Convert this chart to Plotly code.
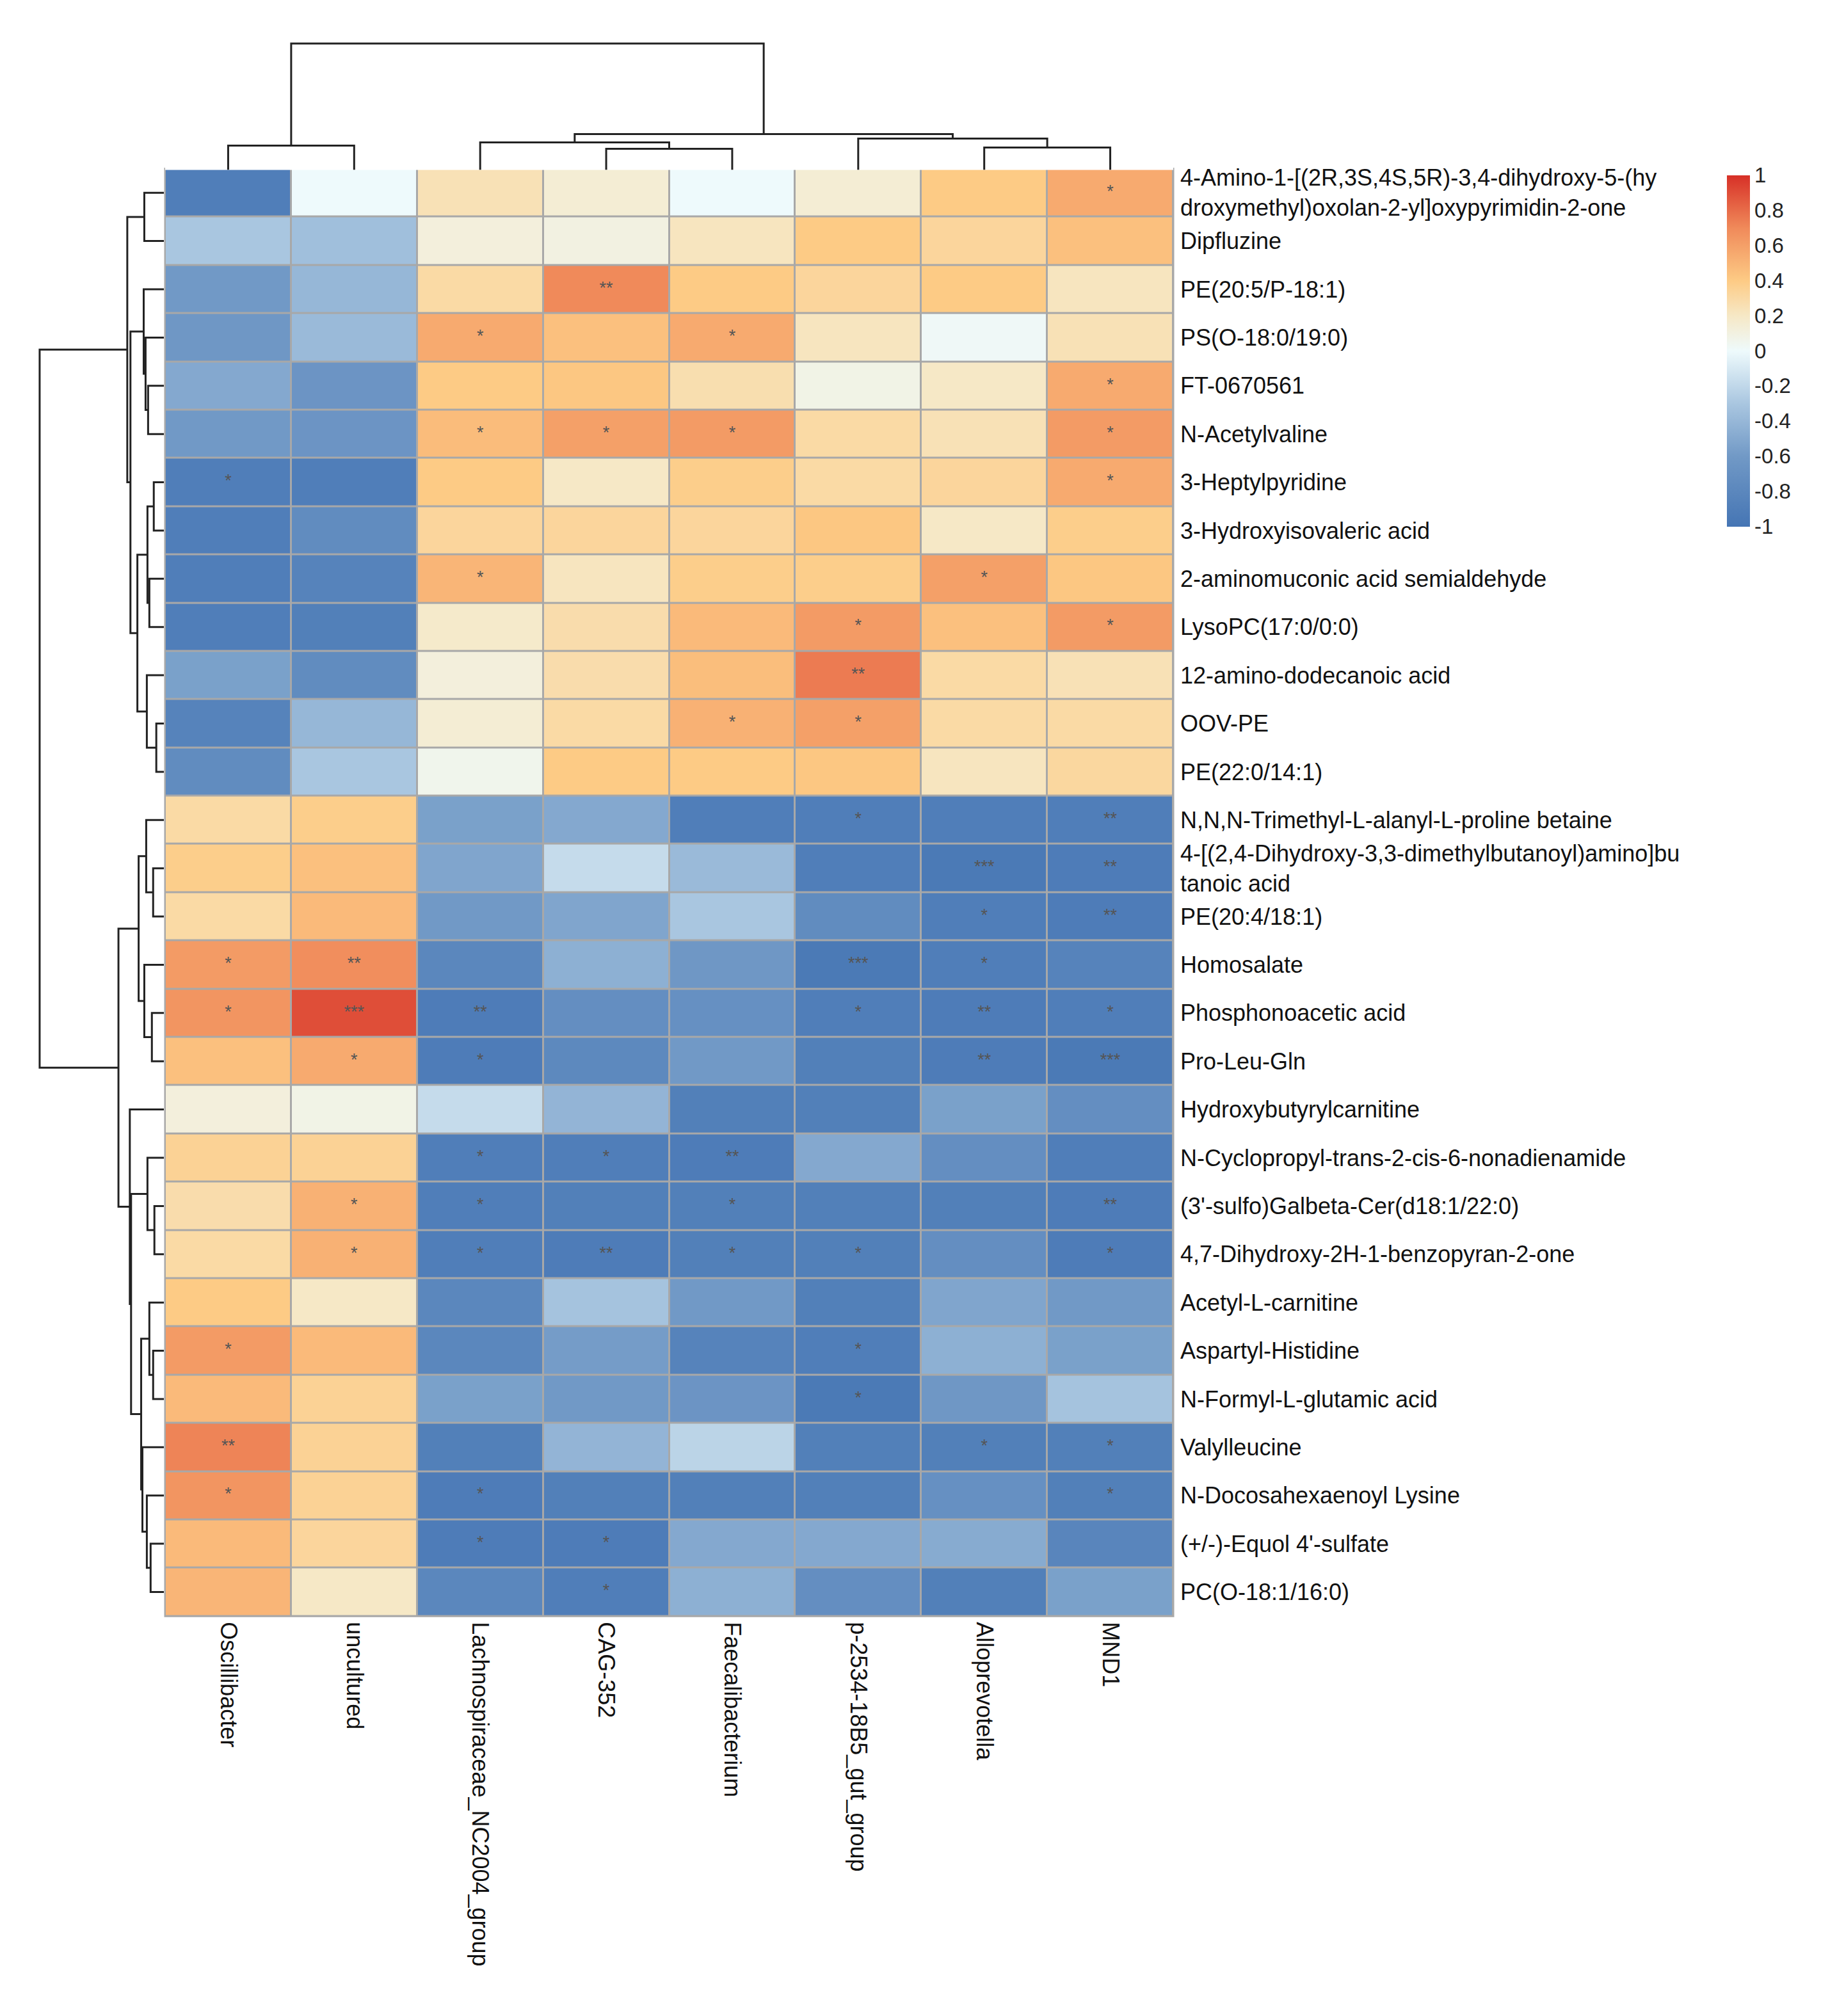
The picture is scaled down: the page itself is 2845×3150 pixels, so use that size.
import plotly.graph_objects as go

W, H = 2845, 3150

col_labels = ["Oscillibacter", "uncultured", "Lachnospiraceae_NC2004_group", "CAG-352",
              "Faecalibacterium", "p-2534-18B5_gut_group", "Alloprevotella", "MND1"]

row_labels = [
    "4-Amino-1-[(2R,3S,4S,5R)-3,4-dihydroxy-5-(hy<br>droxymethyl)oxolan-2-yl]oxypyrimidin-2-one",
    "Dipfluzine", "PE(20:5/P-18:1)", "PS(O-18:0/19:0)", "FT-0670561", "N-Acetylvaline",
    "3-Heptylpyridine", "3-Hydroxyisovaleric acid", "2-aminomuconic acid semialdehyde",
    "LysoPC(17:0/0:0)", "12-amino-dodecanoic acid", "OOV-PE", "PE(22:0/14:1)",
    "N,N,N-Trimethyl-L-alanyl-L-proline betaine",
    "4-[(2,4-Dihydroxy-3,3-dimethylbutanoyl)amino]bu<br>tanoic acid",
    "PE(20:4/18:1)", "Homosalate", "Phosphonoacetic acid", "Pro-Leu-Gln",
    "Hydroxybutyrylcarnitine", "N-Cyclopropyl-trans-2-cis-6-nonadienamide",
    "(3'-sulfo)Galbeta-Cer(d18:1/22:0)", "4,7-Dihydroxy-2H-1-benzopyran-2-one",
    "Acetyl-L-carnitine", "Aspartyl-Histidine", "N-Formyl-L-glutamic acid", "Valylleucine",
    "N-Docosahexaenoyl Lysine", "(+/-)-Equol 4'-sulfate", "PC(O-18:1/16:0)",
]

corr = [
    [-0.90, 0.00, 0.25, 0.15, 0.00, 0.15, 0.40, 0.55],
    [-0.30, -0.35, 0.12, 0.10, 0.22, 0.40, 0.33, 0.45],
    [-0.60, -0.40, 0.30, 0.70, 0.40, 0.33, 0.40, 0.22],
    [-0.62, -0.38, 0.55, 0.45, 0.55, 0.22, 0.02, 0.25],
    [-0.50, -0.65, 0.40, 0.42, 0.27, 0.08, 0.20, 0.55],
    [-0.60, -0.65, 0.47, 0.60, 0.62, 0.30, 0.25, 0.62],
    [-0.90, -0.90, 0.40, 0.20, 0.38, 0.30, 0.33, 0.55],
    [-0.90, -0.75, 0.33, 0.33, 0.33, 0.42, 0.20, 0.38],
    [-0.90, -0.85, 0.50, 0.22, 0.38, 0.38, 0.60, 0.42],
    [-0.90, -0.88, 0.18, 0.28, 0.48, 0.62, 0.45, 0.62],
    [-0.55, -0.75, 0.12, 0.28, 0.46, 0.75, 0.30, 0.25],
    [-0.85, -0.40, 0.15, 0.30, 0.52, 0.60, 0.30, 0.30],
    [-0.75, -0.30, 0.06, 0.40, 0.40, 0.42, 0.22, 0.32],
    [0.30, 0.38, -0.55, -0.50, -0.90, -0.90, -0.90, -0.90],
    [0.38, 0.45, -0.52, -0.18, -0.38, -0.90, -0.95, -0.92],
    [0.30, 0.48, -0.60, -0.52, -0.30, -0.75, -0.90, -0.92],
    [0.62, 0.68, -0.80, -0.45, -0.62, -0.95, -0.90, -0.85],
    [0.65, 0.90, -0.92, -0.72, -0.70, -0.90, -0.92, -0.90],
    [0.45, 0.55, -0.92, -0.78, -0.60, -0.88, -0.92, -0.95],
    [0.12, 0.08, -0.18, -0.42, -0.88, -0.88, -0.55, -0.72],
    [0.35, 0.35, -0.90, -0.90, -0.92, -0.50, -0.72, -0.90],
    [0.28, 0.52, -0.90, -0.88, -0.88, -0.88, -0.88, -0.92],
    [0.30, 0.52, -0.90, -0.92, -0.88, -0.88, -0.72, -0.92],
    [0.40, 0.20, -0.80, -0.32, -0.60, -0.88, -0.52, -0.60],
    [0.62, 0.48, -0.80, -0.58, -0.85, -0.90, -0.45, -0.55],
    [0.48, 0.35, -0.55, -0.60, -0.65, -0.95, -0.62, -0.32],
    [0.72, 0.35, -0.88, -0.42, -0.22, -0.88, -0.88, -0.88],
    [0.65, 0.35, -0.92, -0.88, -0.88, -0.88, -0.70, -0.88],
    [0.48, 0.33, -0.92, -0.92, -0.50, -0.50, -0.48, -0.82],
    [0.50, 0.20, -0.80, -0.90, -0.45, -0.72, -0.88, -0.55],
]

stars = [
    ["", "", "", "", "", "", "", "*"],
    ["", "", "", "", "", "", "", ""],
    ["", "", "", "**", "", "", "", ""],
    ["", "", "*", "", "*", "", "", ""],
    ["", "", "", "", "", "", "", "*"],
    ["", "", "*", "*", "*", "", "", "*"],
    ["*", "", "", "", "", "", "", "*"],
    ["", "", "", "", "", "", "", ""],
    ["", "", "*", "", "", "", "*", ""],
    ["", "", "", "", "", "*", "", "*"],
    ["", "", "", "", "", "**", "", ""],
    ["", "", "", "", "*", "*", "", ""],
    ["", "", "", "", "", "", "", ""],
    ["", "", "", "", "", "*", "", "**"],
    ["", "", "", "", "", "", "***", "**"],
    ["", "", "", "", "", "", "*", "**"],
    ["*", "**", "", "", "", "***", "*", ""],
    ["*", "***", "**", "", "", "*", "**", "*"],
    ["", "*", "*", "", "", "", "**", "***"],
    ["", "", "", "", "", "", "", ""],
    ["", "", "*", "*", "**", "", "", ""],
    ["", "*", "*", "", "*", "", "", "**"],
    ["", "*", "*", "**", "*", "*", "", "*"],
    ["", "", "", "", "", "", "", ""],
    ["*", "", "", "", "", "*", "", ""],
    ["", "", "", "", "", "*", "", ""],
    ["**", "", "", "", "", "", "*", "*"],
    ["*", "", "*", "", "", "", "", "*"],
    ["", "", "*", "*", "", "", "", ""],
    ["", "", "", "*", "", "", "", ""],
]

# cluster trees: (left, right, height), leaves are indices in display order
row_tree = (
    ((0, 1, 31),
     ((2, (3, (4, 5, 25), 29), 32),
      (((6, 7, 16), (8, 9, 23), 26), (10, (11, 12, 12), 27), 42), 53), 58),
    (((13, (14, 15, 17), 28), (16, (17, 18, 19), 31), 40),
     (19, ((20, (21, 22, 15), 26),
           ((23, (24, 25, 17), 23), (26, (27, (28, 29, 21), 27), 34), 36), 52), 54), 72),
    197)
col_tree = ((0, 1, 38), ((2, (3, 4, 33), 43), (5, (6, 7, 35), 49), 56), 198)


def dendro_segments(node, xs, ys):
    # returns (position, height); appends bracket segments
    if isinstance(node, int):
        return float(node), 0.0
    left, right, h = node
    pl, hl = dendro_segments(left, xs, ys)
    pr, hr = dendro_segments(right, xs, ys)
    xs += [pl, pl, pr, pr, None]
    ys += [hl, h, h, hr, None]
    return (pl + pr) / 2, h


colorscale = [
    [0.0, "#4575B4"], [0.2, "#7199C6"], [0.35, "#A9C6E0"], [0.5, "#EEFAFC"],
    [0.6, "#F6E8C6"], [0.7, "#FDCB85"], [0.85, "#F08A5A"], [1.0, "#D73027"],
]

fig = go.Figure()

hm_x = [250 / W, 1825 / W]
hm_y = [1 - 2516 / H, 1 - 250 / H]

fig.add_trace(go.Heatmap(
    z=corr, x=list(range(8)), y=list(range(30)), zmin=-1, zmax=1,
    colorscale=colorscale, xgap=3, ygap=3, hoverinfo="skip",
    colorbar=dict(
        x=2680 / W, xanchor="left", y=hm_y[1], yanchor="top", len=570 / H,
        thickness=36, outlinewidth=0, tickvals=[-1, -0.8, -0.6, -0.4, -0.2, 0, 0.2, 0.4, 0.6, 0.8, 1],
        ticktext=["-1", "-0.8", "-0.6", "-0.4", "-0.2", "0", "0.2", "0.4", "0.6", "0.8", "1"],
        ticks="", tickfont=dict(size=33, color="#222"),
    ),
))

sx, sy, st = [], [], []
for i, row in enumerate(stars):
    for j, s in enumerate(row):
        if s:
            sx.append(j)
            sy.append(i)
            st.append(s)
fig.add_trace(go.Scatter(x=sx, y=sy, text=st, mode="text",
                         textfont=dict(size=27, color="#555"), hoverinfo="skip"))

rx, ry = [], []
dendro_segments(row_tree, ry, rx)
fig.add_trace(go.Scatter(x=rx, y=ry, mode="lines", line=dict(color="#222", width=3),
                         xaxis="x2", yaxis="y2", hoverinfo="skip"))
cx, cy = [], []
dendro_segments(col_tree, cx, cy)
fig.add_trace(go.Scatter(x=cx, y=cy, mode="lines", line=dict(color="#222", width=3),
                         xaxis="x3", yaxis="y3", hoverinfo="skip"))

fig.update_layout(
    width=W, height=H, margin=dict(l=0, r=0, t=0, b=0),
    paper_bgcolor="white", plot_bgcolor="white", showlegend=False,
    font=dict(family="Liberation Sans, Arial", color="#111"),
    xaxis=dict(domain=hm_x, range=[-0.5, 7.5], tickvals=list(range(8)), ticktext=col_labels,
               tickangle=90, side="bottom", showgrid=False, zeroline=False,
               tickfont=dict(size=36), ticks="", ticklabelstandoff=8),
    yaxis=dict(domain=hm_y, range=[29.5, -0.5], tickvals=list(range(30)), ticktext=row_labels,
               side="right", showgrid=False, zeroline=False, tickfont=dict(size=36), ticks="",
               ticklabelstandoff=10),
    xaxis2=dict(domain=[50 / W, 248 / W], range=[201, 0], visible=False, anchor="y2"),
    yaxis2=dict(domain=hm_y, range=[29.5, -0.5], visible=False, anchor="x2"),
    xaxis3=dict(domain=hm_x, range=[-0.5, 7.5], visible=False, anchor="y3"),
    yaxis3=dict(domain=[1 - 252 / H, 1 - 50 / H], range=[0, 202], visible=False, anchor="x3"),
)
# grey background behind the cells gives the grid lines
fig.add_shape(type="rect", xref="paper", yref="paper", x0=hm_x[0], x1=hm_x[1],
              y0=hm_y[0], y1=hm_y[1], layer="below", fillcolor="#A8A8A8",
              line=dict(color="#A8A8A8", width=3))

fig.write_html("out.html")
